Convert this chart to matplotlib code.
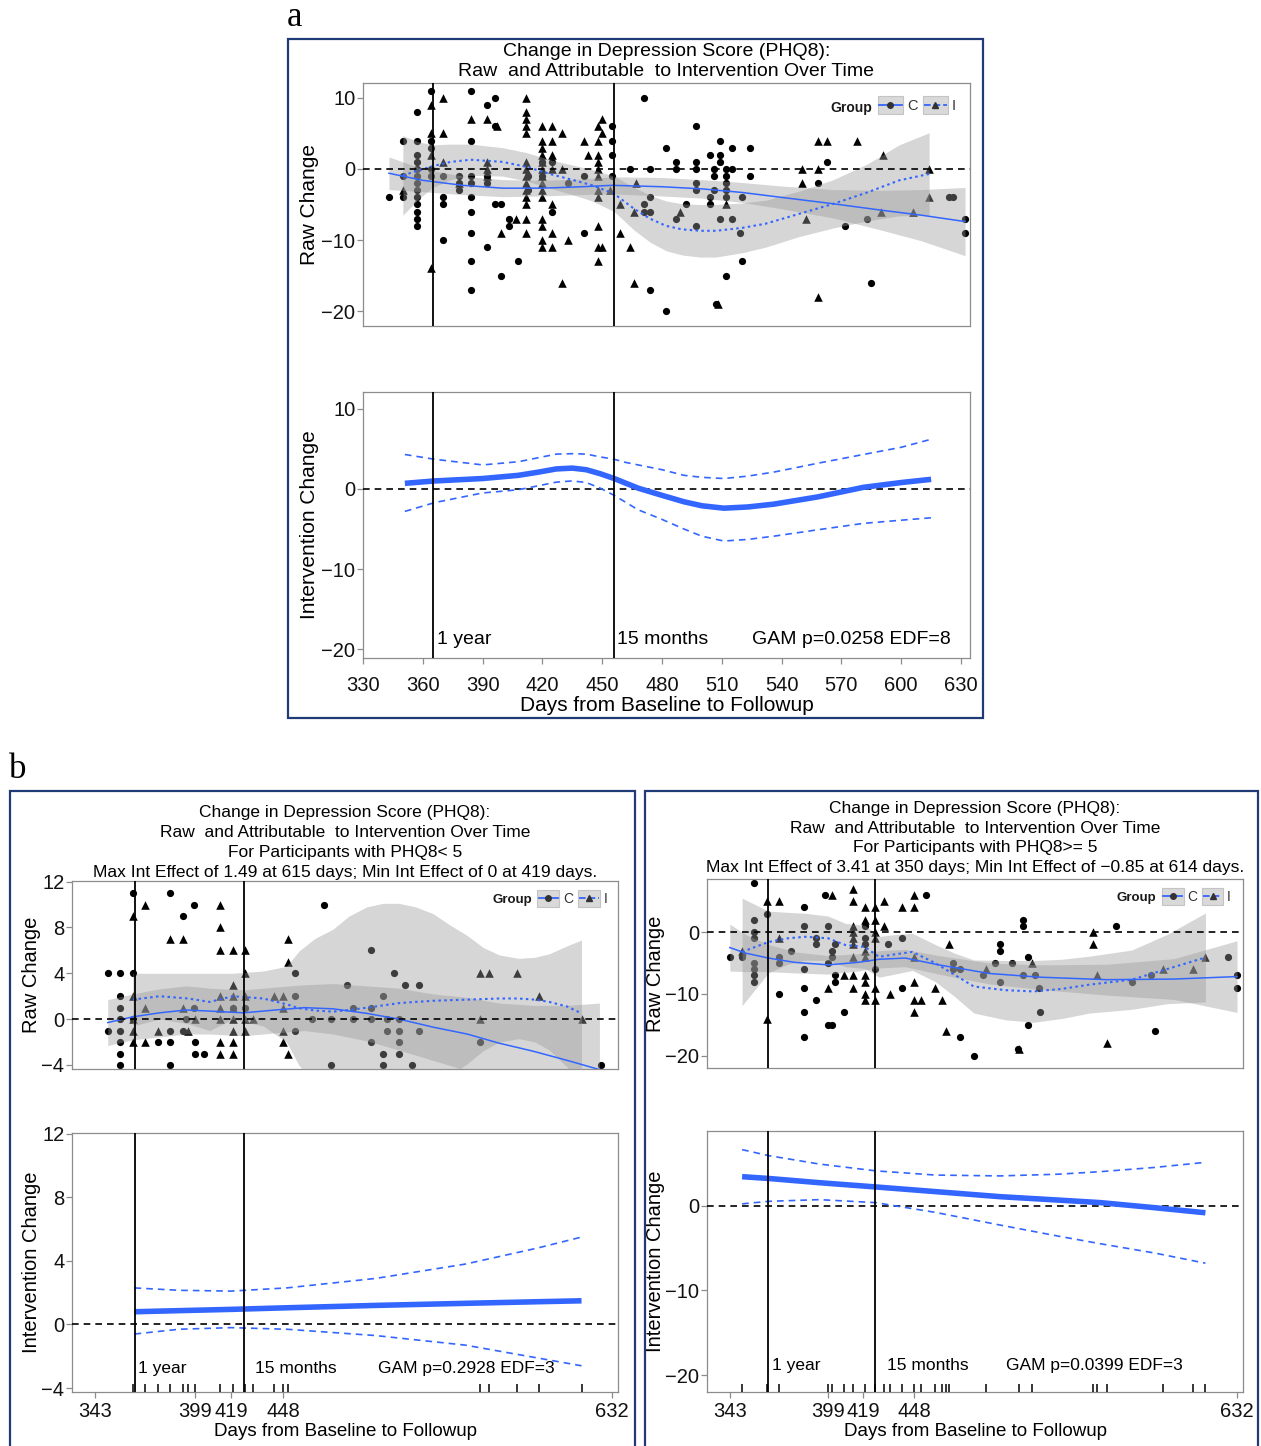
import matplotlib
matplotlib.use("Agg")
import matplotlib.pyplot as plt
import numpy as np
from matplotlib.legend_handler import HandlerBase
from matplotlib.lines import Line2D
from matplotlib.patches import Rectangle

plt.rcParams['font.family'] = ['Liberation Sans', 'DejaVu Sans']

BLUE = '#3366FF'
NAVY = '#1F3A74'
FRAME = '#8c8c8c'

TITLE_1 = "Change in Depression Score (PHQ8):"
TITLE_2 = "Raw  and Attributable  to Intervention Over Time"

# ---------------- panel a: all participants ----------------
# raw change points, day -> list of values (circles = C, triangles = I)
a_c_cols = {343: [-4], 350: [4, -1, -4], 357: [8, 4, 2, 1, 0, -1, -2, -3, -4, -5, -6, -7, -8],
            364: [11, 4, 3, 0, -1], 370: [-1, -4, -5, -10], 378: [-1, -2, -3],
            384: [11, 4, -1, -2, -4, -6, -9, -13, -17], 392: [9, -1, -2, -11], 396: [10, 6, -5],
            399: [-5, -15], 403: [-7, -8], 408: [-13], 413: [-1, -3], 420: [1, -1], 425: [1, -6],
            433: [-2], 441: [-9, -1], 455: [6, 4, 2, -1], 464: [0], 471: [10, -6, -5],
            474: [0, -4, -6, -17], 482: [3, -20], 487: [1, 0, -7], 492: [-5],
            497: [6, 1, 0, -2, -3, -8], 504: [2, -4, -5], 506: [0, -1, -3], 507: [-19],
            509: [4, 2, 1, -7], 512: [0, -1, -2, -3, -4, -15], 515: [3, 0, -7], 519: [-9],
            520: [-4, -13], 524: [3, -1], 558: [-2], 563: [1], 572: [-8], 583: [-7], 585: [-16],
            624: [-4], 626: [-4], 632: [-7, -9]}
a_i_cols = {350: [-3], 364: [9, 5, 2, -14], 370: [10, 5, 1], 378: [-2], 384: [7],
            392: [7, 1, 0, -1], 397: [6], 399: [-9], 407: [-7],
            412: [10, 8, 7, 6, 5, 1, 0, -1, -2, -3, -4, -5, -7, -9],
            420: [6, 4, 3, 2, 1, 0, -1, -2, -3, -4, -7, -8, -10, -11],
            425: [6, 4, 2, 0, -5, -9, -11], 430: [5, 0, -16], 433: [-10], 441: [4], 443: [2],
            448: [6, 4, 2, 1, 0, -1, -3, -4, -8, -11, -13], 450: [7, 5, -11], 454: [-3],
            459: [-5, -9], 464: [-11], 466: [-6, -16], 467: [-2], 489: [-6], 508: [-19], 512: [-5],
            550: [0, -2], 552: [-7], 558: [4, 0, -18], 563: [4], 578: [4], 590: [-6], 591: [2],
            606: [-6], 614: [0, -4]}
# smooth fits: (day, fit, half width of band)
a_c_fit = [(343, -0.6, 2.3), (360, -1.6, 1.6), (380, -2.3, 1.3), (400, -2.7, 1.2), (420, -2.7, 1.1),
           (440, -2.5, 1.1), (455, -2.3, 1.2), (480, -2.5, 1.3), (500, -2.8, 1.3), (520, -3.3, 1.4),
           (540, -4.0, 1.6), (566, -4.9, 2.0), (590, -5.8, 2.8), (610, -6.5, 3.6), (632, -7.4, 4.8)]
a_i_fit = [(350, -0.9, 5.6), (358, -0.2, 4.0), (365, 0.4, 3.0), (374, 1.0, 2.5), (384, 1.3, 2.2),
           (400, 1.0, 2.0), (412, 0.3, 2.0), (425, -0.8, 2.0), (436, -1.6, 2.1), (445, -2.3, 2.2),
           (456, -3.5, 2.5), (466, -5.6, 3.0), (474, -7.0, 3.3), (482, -8.0, 3.5), (490, -8.5, 3.6),
           (499, -8.7, 3.7), (507, -8.7, 3.7), (520, -8.3, 3.5), (532, -7.7, 3.3), (549, -6.3, 3.2),
           (566, -4.9, 3.4), (583, -3.3, 4.0), (599, -1.6, 5.0), (614, -0.7, 5.8)]
# intervention effect: (day, estimate, lower, upper)
a_eff = [(351, 0.7, -2.8, 4.3), (366, 1.0, -1.7, 3.7), (390, 1.3, -0.5, 3.0), (408, 1.7, -0.1, 3.4),
         (418, 2.1, 0.4, 3.9), (427, 2.5, 0.85, 4.35), (435, 2.6, 1.0, 4.4), (442, 2.4, 0.8, 4.35),
         (449, 1.9, 0.1, 4.0), (456, 1.3, -0.8, 3.7), (462, 0.7, -1.7, 3.3), (468, 0.1, -2.6, 3.0),
         (480, -0.8, -3.8, 2.4), (491, -1.6, -5.0, 1.7), (500, -2.1, -5.9, 1.45), (511, -2.4, -6.5, 1.3),
         (523, -2.25, -6.3, 1.6), (536, -1.9, -5.9, 2.1), (558, -1.0, -5.1, 3.2), (581, 0.2, -4.3, 4.3),
         (600, 0.8, -3.9, 5.2), (615, 1.2, -3.6, 6.2)]
a_xticks = [330, 360, 390, 420, 450, 480, 510, 540, 570, 600, 630]
a_gam = "GAM p=0.0258 EDF=8"

# ---------------- panel b left: PHQ8 < 5 ----------------
bl_c_cols = {350: [4, -1], 357: [4, 2, 1, 0, -1, -2, -3, -4], 364: [11, 4, 0], 378: [-2],
             385: [11, -1, -2, -4], 392: [9, -1], 394: [0], 398: [10, 1], 399: [-2, -3], 404: [-3],
             420: [1], 427: [1], 455: [4, 2, -1], 464: [0], 471: [10], 475: [0, -4], 484: [3],
             487: [1, 0], 497: [6, 1, 0, -2], 504: [2, -3, -4], 506: [0, -1], 510: [4],
             513: [0, -1, -2, -3], 516: [3], 520: [-4], 524: [3, -1], 558: [-2], 626: [-4]}
bl_i_cols = {364: [9, 2, 0, -1, -2], 371: [10, 1, -2], 378: [-1], 385: [7], 392: [7, 1], 395: [-1],
             399: [0], 413: [10, 8, 6, 2, 1, 0, -2, -3], 420: [6, 3, 2, 1, 0, -1, -2, -3],
             427: [6, 4, 2, 0, -1], 431: [0], 443: [2], 448: [2, 1, -1, -2], 451: [7, 5, -3],
             558: [4, 0], 563: [4], 579: [4], 591: [2], 615: [0]}
bl_c_fit = [(350, -0.3, 2.0), (364, 0.2, 2.0), (379, 0.55, 2.1), (394, 0.8, 2.1), (407, 0.7, 2.0),
            (426, 0.55, 2.0), (444, 0.8, 2.0), (460, 1.0, 2.0), (476, 0.9, 2.2), (495, 0.5, 2.4),
            (513, 0.0, 2.7), (532, -0.7, 2.9), (551, -1.3, 3.2), (569, -2.1, 3.5), (588, -2.8, 4.0),
            (607, -3.6, 4.8), (625, -4.4, 5.8)]
bl_i_fit = [(364, 1.7, 2.3), (379, 2.0, 2.0), (395, 1.8, 2.2), (407, 1.5, 2.5), (420, 2.0, 2.0),
            (437, 1.8, 2.4), (450, 1.3, 3.3), (457, 0.95, 5.0), (466, 0.75, 6.3), (476, 0.65, 7.2),
            (485, 0.8, 8.2), (495, 1.0, 8.8), (504, 1.2, 8.9), (513, 1.4, 8.7), (522, 1.5, 8.3),
            (532, 1.6, 7.6), (541, 1.65, 6.6), (551, 1.7, 5.6), (560, 1.75, 4.5), (569, 1.8, 3.8),
            (580, 1.8, 3.5), (589, 1.7, 3.7), (597, 1.5, 4.2), (607, 1.1, 5.3), (615, 0.5, 6.4)]
bl_eff = [(365, 0.8, -0.6, 2.3), (390, 0.87, -0.3, 2.15), (419, 0.95, -0.2, 2.1), (450, 1.05, -0.3, 2.3),
          (500, 1.2, -0.7, 2.9), (550, 1.33, -1.3, 3.8), (590, 1.43, -2.1, 4.8), (615, 1.49, -2.6, 5.5)]
bl_sub = "For Participants with PHQ8< 5"
bl_max = "Max Int Effect of 1.49 at 615 days; Min Int Effect of 0 at 419 days."
bl_gam = "GAM p=0.2928 EDF=3"

# ---------------- panel b right: PHQ8 >= 5 ----------------
br_c_cols = {343: [-4], 350: [-4], 357: [8, 2, 0, -1, -5, -6, -7, -8], 364: [3], 371: [-4, -5, -10],
             378: [-3], 385: [4, 1, -6, -9, -13, -17], 392: [-1, -2, -11], 397: [6], 399: [1, -5, -15],
             401: [-3, -4, -15], 403: [-2, -7, -8], 408: [-13], 420: [1, -1, -2], 426: [-6], 433: [-2],
             441: [-1, -9], 455: [6], 470: [-5, -6], 474: [-17, -6], 482: [-20], 487: [-7], 494: [-5],
             497: [-2, -3, -8], 504: [-5], 507: [-19], 510: [2, 1, -7], 513: [-4, -15], 517: [-7],
             519: [-9], 520: [-13], 563: [1], 572: [-8], 583: [-7], 585: [-16], 627: [-4], 632: [-7, -9]}
br_i_cols = {350: [-3], 364: [5, -14], 371: [5, -1], 399: [-9], 401: [6], 408: [-7],
             413: [7, 5, 1, 0, -1, -2, -4, -7, -9], 420: [4, 2, -3, -4, -7, -8, -10, -11],
             426: [4, 2, 0, -1, -9, -11], 431: [5, 1], 434: [-10], 441: [4], 448: [6, 4, -4, -8, -11, -13],
             452: [-11], 460: [-9], 464: [-11], 466: [-16], 468: [-2], 489: [-6], 508: [-19], 515: [-5],
             550: [0, -2], 552: [-7], 558: [-18], 590: [-6], 607: [-6], 614: [-4]}
br_c_fit = [(343, -2.5, 3.8), (352, -3.4, 3.0), (365, -4.2, 2.2), (380, -4.9, 1.7), (399, -5.3, 1.5),
            (416, -4.9, 1.4), (428, -4.4, 1.4), (443, -4.2, 1.4), (462, -5.3, 1.5), (491, -6.7, 1.7),
            (520, -7.3, 2.0), (558, -7.7, 2.5), (596, -7.6, 3.3), (632, -7.2, 5.8)]
br_i_fit = [(350, -3.2, 8.7), (365, -1.6, 5.0), (376, -1.0, 4.2), (386, -0.75, 3.8), (399, -1.0, 3.6),
            (409, -2.1, 3.5), (420, -2.4, 3.5), (428, -4.0, 3.3), (437, -3.6, 3.2), (447, -3.2, 3.0),
            (460, -5.0, 3.0), (471, -6.9, 3.5), (482, -8.8, 4.3), (500, -9.4, 4.8), (516, -9.6, 5.0),
            (532, -9.2, 4.8), (548, -8.5, 4.6), (572, -7.7, 4.8), (592, -6.0, 5.6), (614, -4.1, 7.2)]
br_eff = [(350, 3.41, 0.2, 6.6), (365, 3.2, 0.5, 5.9), (394, 2.7, 0.7, 4.9), (426, 2.2, 0.35, 4.1),
          (460, 1.65, -0.8, 3.6), (497, 1.05, -2.3, 3.5), (530, 0.65, -3.6, 3.7), (554, 0.35, -4.5, 4.0),
          (585, -0.25, -5.6, 4.5), (614, -0.85, -6.8, 5.1)]
br_sub = "For Participants with PHQ8>= 5"
br_max = "Max Int Effect of 3.41 at 350 days; Min Int Effect of \u22120.85 at 614 days."
br_gam = "GAM p=0.0399 EDF=3"

b_xticks = [343, 399, 419, 448, 632]


def flatten(cols):
    xs, ys = [], []
    for d, vals in cols.items():
        xs += [d] * len(vals)
        ys += vals
    return np.array(xs, float), np.array(ys, float)


class KeyHandler(HandlerBase):
    def create_artists(self, legend, orig_handle, xdescent, ydescent, width, height, fontsize, trans):
        x0, y0 = -xdescent, -ydescent
        box = Rectangle((x0, y0), width, height, facecolor='#d9d9d9', edgecolor='#c4c4c4',
                        lw=0.8, transform=trans)
        ln = Line2D([x0 + 1, x0 + width - 1], [y0 + height / 2] * 2, color=BLUE,
                    ls=orig_handle.get_linestyle(), lw=1.3, transform=trans)
        mk = Line2D([x0 + width / 2], [y0 + height / 2], marker=orig_handle.get_marker(),
                    ms=4, color='#333333', ls='none', transform=trans)
        return [box, ln, mk]


def style_axes(ax, fs):
    for s in ax.spines.values():
        s.set_color(FRAME)
        s.set_linewidth(0.9)
    ax.tick_params(axis='both', colors=FRAME, labelcolor='#111111', labelsize=fs,
                   length=4, width=0.9, pad=1.5)


def draw_raw(ax, c_cols, i_cols, c_fit, i_fit, vlines):
    xc, yc = flatten(c_cols)
    xi, yi = flatten(i_cols)
    ax.scatter(xc, yc, marker='o', s=27, color='black', linewidths=0, zorder=2)
    ax.scatter(xi, yi, marker='^', s=38, color='black', linewidths=0, zorder=2)
    for fit in (c_fit, i_fit):
        d, v, hw = np.array(fit).T
        ax.fill_between(d, v - hw, v + hw, color='#999999', alpha=0.4, lw=0, zorder=3)
    d, v, _ = np.array(c_fit).T
    ax.plot(d, v, color=BLUE, lw=1.1, zorder=4)
    d, v, _ = np.array(i_fit).T
    ax.plot(d, v, color=BLUE, lw=1.5, ls=(0, (1.2, 1.6)), zorder=4)
    ax.axhline(0, color='black', lw=1.2, ls=(0, (4, 3)), zorder=5)
    for xv in vlines:
        ax.axvline(xv, color='black', lw=1.3, zorder=5)
    ax.set_xticks([])


def draw_effect(ax, eff, vlines):
    d, est, lo, hi = np.array(eff).T
    ax.plot(d, est, color=BLUE, lw=4, solid_capstyle='butt', solid_joinstyle='round', zorder=4)
    ax.plot(d, lo, color=BLUE, lw=1.2, ls=(0, (4, 3)), zorder=4)
    ax.plot(d, hi, color=BLUE, lw=1.2, ls=(0, (4, 3)), zorder=4)
    ax.axhline(0, color='black', lw=1.2, ls=(0, (4, 3)), zorder=3)
    for xv in vlines:
        ax.axvline(xv, color='black', lw=1.3, zorder=5)


def add_legend(ax, gx, gy, lx, ly, fs, hlen):
    h_c = Line2D([], [], ls='-', marker='o')
    h_i = Line2D([], [], ls=(0, (1.5, 1.5)), marker='^')
    ax.text(gx, gy, 'Group', transform=ax.transAxes, ha='right', va='center',
            fontsize=fs - 0.5, fontweight='bold', color='#1a1a1a', zorder=10)
    leg = ax.legend([h_c, h_i], ['C', 'I'], handler_map={Line2D: KeyHandler()}, ncol=2,
                    loc='upper left', bbox_to_anchor=(lx, ly), frameon=False, fontsize=fs,
                    handlelength=hlen, handleheight=1.45, handletextpad=0.25, columnspacing=0.35,
                    borderpad=0, borderaxespad=0, labelcolor='#333333')
    leg.set_zorder(10)


def px(x0, y0, x1, y1):
    W, H = 1261.0, 1446.0
    return [x0 / W, 1 - y1 / H, (x1 - x0) / W, (y1 - y0) / H]


fig = plt.figure(figsize=(12.61, 14.46), dpi=100)

# frames and panel letters
for (x0, y0, x1, y1) in [(288, 39, 983, 718), (10, 791, 635, 1452), (645, 791, 1258, 1452)]:
    fig.add_artist(Rectangle((x0 / 1261, 1 - y1 / 1446), (x1 - x0) / 1261, (y1 - y0) / 1446,
                             transform=fig.transFigure, fill=False, edgecolor=NAVY, lw=1.6))
fig.text(295 / 1261, 1 - 18 / 1446, 'a', family=['Liberation Serif'], fontsize=25,
         ha='center', va='center')
fig.text(18 / 1261, 1 - 770 / 1446, 'b', family=['Liberation Serif'], fontsize=25,
         ha='center', va='center')

# ---------- panel a ----------
ax = fig.add_axes(px(363, 83, 970, 326))
draw_raw(ax, a_c_cols, a_i_cols, a_c_fit, a_i_fit, [365, 456])
ax.set_xlim(330, 634.5)
ax.set_ylim(-22.1, 12.1)
ax.set_yticks([10, 0, -10, -20])
style_axes(ax, 14.5)
ax.set_ylabel('Raw Change', fontsize=15, labelpad=2)
ax.set_title(TITLE_1 + "\n" + TITLE_2, fontsize=14, pad=5, linespacing=1.25)
add_legend(ax, 0.839, 0.897, 0.848, 0.945, 10.5, 1.75)

ax = fig.add_axes(px(363, 392, 970, 658))
draw_effect(ax, a_eff, [365, 456])
ax.set_xlim(330, 634.5)
ax.set_ylim(-21.1, 12.1)
ax.set_yticks([10, 0, -10, -20])
ax.set_xticks(a_xticks)
style_axes(ax, 14.5)
ax.tick_params(axis='x', pad=9)
ax.set_ylabel('Intervention Change', fontsize=15, labelpad=2)
ax.set_xlabel('Days from Baseline to Followup', fontsize=15, labelpad=1)
ax.text(367, -18.75, '1 year', fontsize=14, va='center')
ax.text(457.5, -18.75, '15 months', fontsize=14, va='center')
ax.text(525, -18.75, a_gam, fontsize=14, va='center')

# ---------- panel b left ----------
ax = fig.add_axes(px(72, 881, 618, 1069))
draw_raw(ax, bl_c_cols, bl_i_cols, bl_c_fit, bl_i_fit, [365, 426])
ax.set_xlim(330, 635.4)
ax.set_ylim(-4.35, 12.05)
ax.set_yticks([12, 8, 4, 0, -4])
style_axes(ax, 14.5)
ax.set_ylabel('Raw Change', fontsize=14.5, labelpad=0.5)
ax.set_title("\n".join([TITLE_1, TITLE_2, bl_sub, bl_max]), fontsize=12.5, pad=3, linespacing=1.42)
add_legend(ax, 0.842, 0.899, 0.852, 0.952, 10, 1.6)

ax = fig.add_axes(px(72, 1133, 618, 1392))
draw_effect(ax, bl_eff, [365, 426])
xi, _ = flatten(bl_i_cols)
ax.vlines(np.unique(xi), 0, 0.03, transform=ax.get_xaxis_transform(), color='black', lw=1.1, zorder=5)
ax.set_xlim(330, 635.4)
ax.set_ylim(-4.25, 12.05)
ax.set_yticks([12, 8, 4, 0, -4])
ax.set_xticks(b_xticks)
style_axes(ax, 14.5)
ax.tick_params(axis='x', pad=3)
ax.set_ylabel('Intervention Change', fontsize=14.5, labelpad=0.5)
ax.set_xlabel('Days from Baseline to Followup', fontsize=13.5, labelpad=2)
ax.text(367, -2.8, '1 year', fontsize=12.5, va='center')
ax.text(432.5, -2.8, '15 months', fontsize=12.5, va='center')
ax.text(501, -2.8, bl_gam, fontsize=12.5, va='center')

# ---------- panel b right ----------
ax = fig.add_axes(px(707, 879, 1243, 1068))
draw_raw(ax, br_c_cols, br_i_cols, br_c_fit, br_i_fit, [365, 426])
ax.set_xlim(330, 635.4)
ax.set_ylim(-22, 8.6)
ax.set_yticks([0, -10, -20])
style_axes(ax, 14.5)
ax.set_ylabel('Raw Change', fontsize=14.5, labelpad=0.5)
ax.set_title("\n".join([TITLE_1, TITLE_2, br_sub, br_max]), fontsize=12.5, pad=5, linespacing=1.38)
add_legend(ax, 0.838, 0.899, 0.849, 0.952, 10, 1.55)

ax = fig.add_axes(px(707, 1131, 1243, 1392))
draw_effect(ax, br_eff, [365, 426])
xi, _ = flatten(br_i_cols)
ax.vlines(np.unique(xi), 0, 0.03, transform=ax.get_xaxis_transform(), color='black', lw=1.1, zorder=5)
ax.set_xlim(330, 635.4)
ax.set_ylim(-22, 8.8)
ax.set_yticks([0, -10, -20])
ax.set_xticks(b_xticks)
style_axes(ax, 14.5)
ax.tick_params(axis='x', pad=3)
ax.set_ylabel('Intervention Change', fontsize=14.5, labelpad=0.5)
ax.set_xlabel('Days from Baseline to Followup', fontsize=13.5, labelpad=2)
ax.text(367, -18.9, '1 year', fontsize=12.5, va='center')
ax.text(432.5, -18.9, '15 months', fontsize=12.5, va='center')
ax.text(500.5, -18.9, br_gam, fontsize=12.5, va='center')

fig.savefig('out.png', dpi=100)
